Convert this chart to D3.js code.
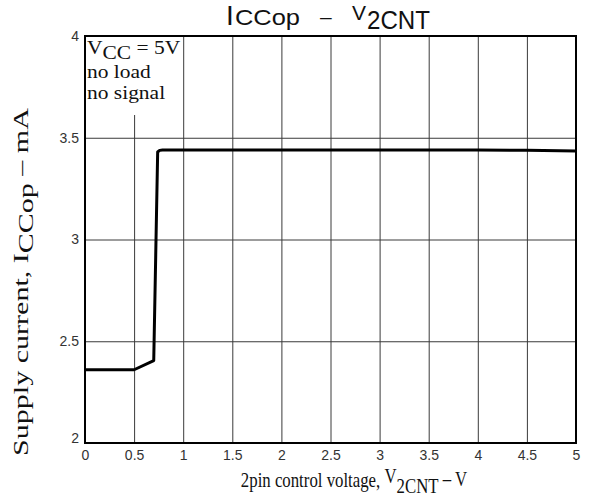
<!DOCTYPE html>
<html>
<head>
<meta charset="utf-8">
<script src="https://cdn.jsdelivr.net/npm/d3@7"></script>
<style>
  body { margin: 0; background: #fff; }
  .tick text { font-family: "Liberation Sans", Arial, sans-serif; font-size: 14px; fill: #333; }
  .serif { font-family: "Liberation Serif", "Times New Roman", serif; fill: #111; }
  .sans { font-family: "Liberation Sans", Arial, sans-serif; fill: #111; }
</style>
</head>
<body>
<svg width="590" height="499"></svg>
<script>
const xTicks = [0, 0.5, 1, 1.5, 2, 2.5, 3, 3.5, 4, 4.5, 5];
const yTicks = [2, 2.5, 3, 3.5, 4];

// curve: control voltage (V) vs supply current (mA)
const voltage = [0, 0.5, 0.70, 0.74, 0.76, 0.79, 1, 2, 3, 4, 4.5, 5];
const current = [2.36, 2.36, 2.405, 3.43, 3.438, 3.44, 3.44, 3.44, 3.44, 3.44, 3.438, 3.435];

const svg = d3.select("svg");

const margin = { left: 85, right: 14, top: 36, bottom: 56 };
const width = 590 - margin.left - margin.right;
const height = 499 - margin.top - margin.bottom;

const x = d3.scaleLinear().domain([0, 5]).range([0, width]);
const y = d3.scaleLinear().domain([2, 4]).range([height, 0]);

const g = svg.append("g").attr("transform", `translate(${margin.left},${margin.top})`);

// vertical gridlines
g.append("g")
    .attr("transform", `translate(0,${height})`)
    .call(d3.axisBottom(x).tickValues(xTicks).tickSize(-height).tickFormat(""))
    .call(a => a.select(".domain").remove())
    .selectAll("line").attr("stroke", "#3a3a3a").attr("stroke-width", 1);

// horizontal gridlines
g.append("g")
    .call(d3.axisLeft(y).tickValues(yTicks).tickSize(-width).tickFormat(""))
    .call(a => a.select(".domain").remove())
    .selectAll("line").attr("stroke", "#3a3a3a").attr("stroke-width", 1);

// white box behind the conditions text
g.append("rect")
    .attr("x", 1).attr("y", 1)
    .attr("width", 93).attr("height", 78)
    .attr("fill", "#fff");

// tick labels
g.append("g")
    .attr("transform", `translate(0,${height})`)
    .call(d3.axisBottom(x).tickValues(xTicks).tickSize(0).tickPadding(7).tickFormat(d3.format("")))
    .call(a => a.select(".domain").remove());

g.append("g")
    .call(d3.axisLeft(y).tickValues(yTicks).tickSize(0).tickPadding(6).tickFormat(d3.format("")))
    .call(a => a.select(".domain").remove())
    .selectAll("text")
    .attr("dy", d => d === 2 ? "-0.05em" : "0.32em");

// frame
g.append("rect")
    .attr("width", width).attr("height", height)
    .attr("fill", "none").attr("stroke", "#000").attr("stroke-width", 2);

// the curve
const line = d3.line()
    .x((d, i) => x(voltage[i]))
    .y(d => y(d));

g.append("path")
    .datum(current)
    .attr("fill", "none")
    .attr("stroke", "#000")
    .attr("stroke-width", 3)
    .attr("stroke-linejoin", "round")
    .attr("d", line);

// conditions text
const legend = g.append("g").attr("transform", "translate(2,0) scale(1.13,1)");
const cond = legend.append("text").attr("class", "serif").attr("font-size", 19);
cond.append("tspan").attr("x", 0).attr("y", 18).text("V");
cond.append("tspan").attr("dy", 5).text("CC");
cond.append("tspan").attr("dy", -5).text(" = 5V");
legend.append("text").attr("class", "serif").attr("font-size", 19)
    .attr("x", 0).attr("y", 42).text("no load");
legend.append("text").attr("class", "serif").attr("font-size", 19)
    .attr("x", 0).attr("y", 63).text("no signal");

// title
svg.append("text").attr("class", "sans").attr("x", 226).attr("y", 25).attr("font-size", 28).text("I");
svg.append("text").attr("class", "sans").attr("x", 235).attr("y", 25).attr("font-size", 22)
    .attr("textLength", 65).attr("lengthAdjust", "spacingAndGlyphs").text("CCop");
svg.append("text").attr("class", "sans").attr("x", 320).attr("y", 24).attr("font-size", 21).text("–");
svg.append("text").attr("class", "sans").attr("x", 352).attr("y", 20).attr("font-size", 21).text("V");
svg.append("text").attr("class", "sans").attr("x", 367).attr("y", 29).attr("font-size", 26)
    .attr("textLength", 63).attr("lengthAdjust", "spacingAndGlyphs").text("2CNT");

// x axis title
const xt = svg.append("text").attr("class", "serif").attr("font-size", 21)
    .attr("transform", "translate(354,487) scale(0.8,1)")
    .attr("text-anchor", "middle");
xt.append("tspan").text("2pin control voltage, ");
xt.append("tspan").attr("dy", -4).text("V");
xt.append("tspan").attr("dy", 10).text("2CNT");
xt.append("tspan").attr("dy", -7).text(" – V");

// y axis title
const yt = svg.append("text").attr("class", "serif").attr("font-size", 21)
    .attr("transform", "translate(28,282) rotate(-90) scale(1.43,1)")
    .attr("text-anchor", "middle");
yt.append("tspan").text("Supply current, I");
yt.append("tspan").attr("dy", 5).text("CCop");
yt.append("tspan").attr("dy", -5).text(" – mA");
</script>
</body>
</html>
